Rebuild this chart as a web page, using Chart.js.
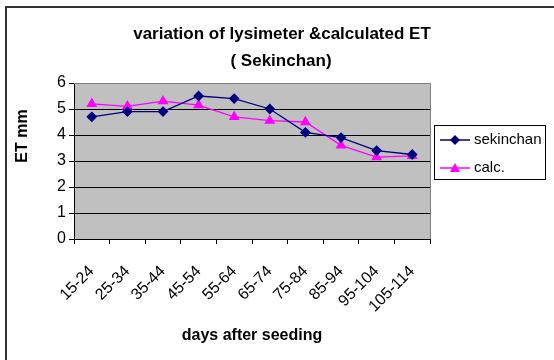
<!DOCTYPE html>
<html>
<head>
<meta charset="utf-8">
<script src="https://cdn.jsdelivr.net/npm/chart.js@4.4.0/dist/chart.umd.min.js"></script>
<style>
  html, body { margin: 0; padding: 0; background: #fff; }
  #wrap { position: relative; width: 554px; height: 360px; }
</style>
</head>
<body>
<div id="wrap"><canvas id="canvas" width="554" height="360"></canvas></div>
<script>
// data
const periods = ['15-24', '25-34', '35-44', '45-54', '55-64', '65-74', '75-84', '85-94', '95-104', '105-114'];
const sekinchan = [4.7, 4.9, 4.9, 5.5, 5.4, 5.0, 4.1, 3.9, 3.4, 3.25];
const calc = [5.2, 5.1, 5.3, 5.15, 4.7, 4.55, 4.5, 3.6, 3.15, 3.2];
const yTicks = [0, 1, 2, 3, 4, 5, 6];

const titleLines = ['variation of lysimeter &calculated ET', '( Sekinchan)'];
const yTitle = 'ET mm';

const FONT = 'Arial, "Liberation Sans", sans-serif';

// grey plot background, frame, outer border, titles and legend
const decor = {
    id: 'decor',
    beforeDraw(chart) {
        const c = chart.ctx;
        const a = chart.chartArea;
        c.save();
        c.fillStyle = '#c0c0c0';
        c.fillRect(a.left, a.top, a.right - a.left, a.bottom - a.top);
        c.restore();
    },
    afterDraw(chart) {
        const c = chart.ctx;
        const a = chart.chartArea;
        c.save();
        // plot frame top/right
        c.strokeStyle = '#808080';
        c.lineWidth = 1;
        c.beginPath();
        c.moveTo(a.left, a.top + 0.5);
        c.lineTo(a.right + 0.5, a.top + 0.5);
        c.lineTo(a.right + 0.5, a.bottom);
        c.stroke();

        // outer border (left and top only visible)
        c.strokeStyle = '#333';
        c.lineWidth = 2;
        c.beginPath();
        c.moveTo(6, 360);
        c.lineTo(6, 7);
        c.lineTo(554, 7);
        c.stroke();

        // title
        c.fillStyle = '#000';
        c.font = 'bold 17px ' + FONT;
        c.textAlign = 'center';
        c.textBaseline = 'middle';
        c.fillText(titleLines[0], 282, 34);
        c.fillText(titleLines[1], 281, 61);

        // y axis title
        c.font = 'bold 16px ' + FONT;
        c.save();
        c.translate(23, 136);
        c.rotate(-Math.PI / 2);
        c.fillText(yTitle, 0, 0);
        c.restore();

        // legend
        c.fillStyle = '#fff';
        c.fillRect(434, 125, 112, 55);
        c.strokeStyle = '#000';
        c.lineWidth = 1;
        c.strokeRect(434.5, 125.5, 111, 54);
        c.textAlign = 'left';
        c.font = '15px ' + FONT;
        chart.data.datasets.forEach((ds, i) => {
            const y = 140 + i * 28;
            c.strokeStyle = ds.borderColor;
            c.lineWidth = 1.5;
            c.beginPath();
            c.moveTo(440, y);
            c.lineTo(470, y);
            c.stroke();
            c.fillStyle = ds.borderColor;
            c.beginPath();
            if (ds.pointStyle === 'triangle') {
                c.moveTo(455, y - 5);
                c.lineTo(460, y + 4);
                c.lineTo(450, y + 4);
            } else {
                c.moveTo(455, y - 5);
                c.lineTo(460, y);
                c.lineTo(455, y + 5);
                c.lineTo(450, y);
            }
            c.closePath();
            c.fill();
            c.fillStyle = '#000';
            c.fillText(ds.label, 474, y);
        });
        c.restore();
    }
};

const ctx = document.getElementById('canvas');
new Chart(ctx, {
    type: 'line',
    data: {
        labels: periods,
        datasets: [{
            label: 'sekinchan',
            data: sekinchan,
            borderColor: '#000080',
            backgroundColor: '#000080',
            borderWidth: 1.3,
            pointStyle: 'rectRot',
            pointRadius: 4.5,
            tension: 0
        }, {
            label: 'calc.',
            data: calc,
            borderColor: '#ff00ff',
            backgroundColor: '#ff00ff',
            borderWidth: 1.3,
            pointStyle: 'triangle',
            pointRadius: 5,
            tension: 0
        }]
    },
    options: {
        responsive: false,
        animation: false,
        devicePixelRatio: 1,
        layout: {
            padding: {left: 0, right: 124, top: 83, bottom: 0}
        },
        plugins: {
            legend: {display: false},
            title: {display: false},
            tooltip: {enabled: false}
        },
        scales: {
            x: {
                offset: true,
                afterFit: (s) => { s.height = 121; },
                grid: {
                    display: true,
                    drawOnChartArea: false,
                    drawTicks: true,
                    tickLength: 5,
                    color: '#000',
                    offset: true
                },
                border: {display: true, color: '#000', width: 1},
                ticks: {
                    color: '#000',
                    font: {family: FONT, size: 16},
                    minRotation: 45,
                    maxRotation: 45,
                    autoSkip: false,
                    padding: 18
                },
                title: {
                    display: true,
                    text: 'days after seeding',
                    color: '#000',
                    font: {family: FONT, size: 16, weight: 'bold'},
                    padding: {top: 0, bottom: 15}
                }
            },
            y: {
                min: yTicks[0],
                max: yTicks[yTicks.length - 1],
                afterFit: (s) => { s.width = 74; },
                afterBuildTicks: (s) => { s.ticks = yTicks.map(v => ({value: v})); },
                grid: {
                    color: '#000',
                    lineWidth: 1,
                    drawTicks: true,
                    tickLength: 5
                },
                border: {display: true, color: '#000', width: 1},
                ticks: {
                    color: '#000',
                    font: {family: FONT, size: 16},
                    padding: 3
                },
                title: {display: false}
            }
        }
    },
    plugins: [decor]
});
</script>
</body>
</html>
